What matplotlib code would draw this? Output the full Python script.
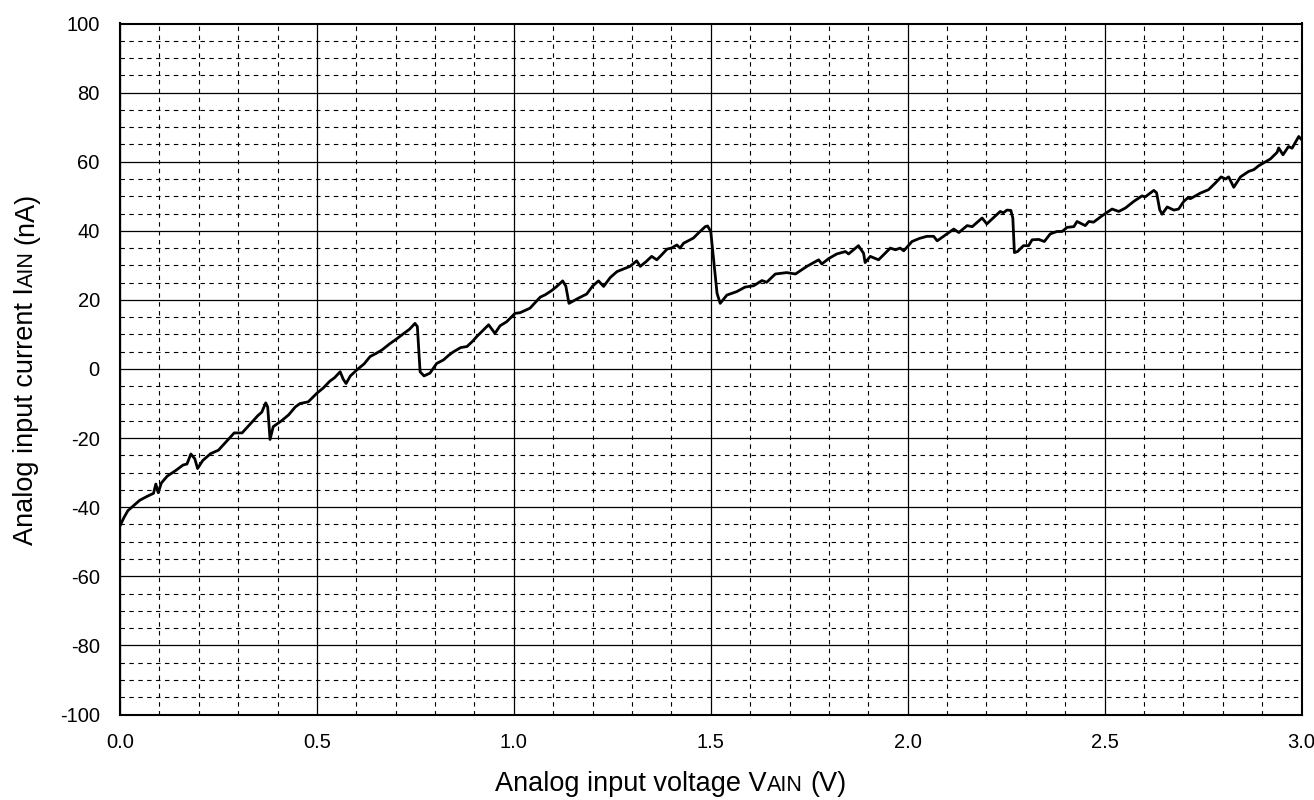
import numpy as np
import matplotlib
matplotlib.use("Agg")
import matplotlib.pyplot as plt
from matplotlib.ticker import MultipleLocator, FormatStrFormatter

plt.rcParams['font.family'] = ['Liberation Sans', 'DejaVu Sans']
plt.rcParams['axes.unicode_minus'] = False

# analog input voltage (V) vs analog input current (nA)
vain = [0.000, 0.010, 0.020, 0.035, 0.050, 0.070, 0.085, 0.091, 0.097, 0.105,
        0.120, 0.140, 0.160, 0.170, 0.180, 0.190, 0.197, 0.210, 0.230, 0.250,
        0.270, 0.290, 0.310, 0.330, 0.350, 0.360, 0.370, 0.375, 0.381, 0.389,
        0.410, 0.428, 0.445, 0.457, 0.478, 0.500, 0.516, 0.533, 0.545, 0.559,
        0.567, 0.574, 0.585, 0.601, 0.620, 0.635, 0.650, 0.665, 0.686, 0.700,
        0.716, 0.735, 0.749, 0.755, 0.762, 0.772, 0.787, 0.804, 0.821, 0.835,
        0.847, 0.865, 0.881, 0.895, 0.906, 0.920, 0.936, 0.952, 0.965, 0.982,
        1.003, 1.016, 1.041, 1.067, 1.080, 1.096, 1.110, 1.124, 1.132, 1.140,
        1.164, 1.185, 1.200, 1.215, 1.228, 1.245, 1.262, 1.280, 1.295, 1.312,
        1.321, 1.335, 1.350, 1.363, 1.375, 1.389, 1.400, 1.414, 1.422, 1.431,
        1.456, 1.470, 1.486, 1.492, 1.500, 1.516, 1.524, 1.541, 1.566, 1.587,
        1.609, 1.630, 1.642, 1.664, 1.693, 1.715, 1.744, 1.774, 1.782, 1.800,
        1.820, 1.842, 1.850, 1.875, 1.888, 1.892, 1.905, 1.926, 1.956, 1.969,
        1.981, 1.990, 2.011, 2.030, 2.049, 2.066, 2.075, 2.096, 2.117, 2.130,
        2.151, 2.164, 2.189, 2.201, 2.235, 2.243, 2.252, 2.262, 2.267, 2.271,
        2.279, 2.294, 2.307, 2.316, 2.333, 2.347, 2.362, 2.379, 2.392, 2.405,
        2.422, 2.430, 2.451, 2.460, 2.472, 2.493, 2.519, 2.536, 2.553, 2.574,
        2.595, 2.603, 2.625, 2.632, 2.640, 2.646, 2.659, 2.676, 2.688, 2.701,
        2.711, 2.718, 2.743, 2.764, 2.781, 2.796, 2.807, 2.815, 2.828, 2.845,
        2.866, 2.879, 2.891, 2.921, 2.938, 2.942, 2.953, 2.967, 2.976, 2.993,
        3.000]
iain = [-45.4, -43.0, -41.0, -39.5, -38.0, -36.8, -36.0, -33.3, -35.8, -33.0,
        -31.0, -29.5, -27.8, -27.5, -24.6, -26.0, -28.8, -26.5, -24.5, -23.5,
        -21.0, -18.5, -18.5, -16.0, -13.5, -12.5, -9.8, -11.0, -20.4, -16.7,
        -15.0, -13.3, -11.0, -10.0, -9.5, -7.0, -5.5, -3.5, -2.5, -0.8,
        -3.0, -4.2, -2.0, -0.3, 1.5, 3.6, 4.5, 5.5, 7.4, 8.5,
        9.9, 11.5, 13.2, 12.3, -0.8, -2.0, -1.2, 1.6, 2.6, 4.0,
        5.0, 6.2, 6.5, 8.0, 9.4, 11.0, 12.8, 10.3, 12.5, 13.7,
        16.1, 16.3, 17.6, 20.8, 21.5, 22.7, 24.0, 25.5, 24.0, 19.0,
        20.5, 21.7, 24.0, 25.5, 23.9, 26.5, 28.2, 29.0, 29.7, 31.3,
        29.7, 31.0, 32.6, 31.6, 33.0, 34.7, 35.0, 35.9, 35.0, 36.4,
        37.9, 39.5, 41.2, 41.4, 39.8, 21.9, 19.0, 21.4, 22.4, 23.7,
        24.1, 25.6, 25.1, 27.5, 27.9, 27.5, 29.7, 31.6, 30.4, 32.0,
        33.3, 34.0, 33.3, 35.7, 33.5, 30.8, 32.6, 31.6, 35.0, 34.5,
        35.0, 34.2, 36.9, 37.8, 38.4, 38.4, 37.1, 38.8, 40.5, 39.5,
        41.5, 41.2, 43.7, 42.0, 45.6, 45.2, 46.0, 45.9, 43.7, 33.7,
        34.0, 35.7, 35.7, 37.4, 37.5, 36.9, 39.1, 39.8, 39.8, 41.0,
        41.2, 42.7, 41.5, 42.7, 42.5, 44.3, 46.3, 45.6, 46.6, 48.5,
        50.1, 49.8, 51.7, 51.0, 46.1, 44.8, 46.9, 46.0, 46.3, 48.5,
        49.5, 49.3, 50.9, 51.9, 53.8, 55.6, 55.0, 55.6, 52.6, 55.6,
        57.2, 57.7, 58.8, 60.8, 62.7, 64.0, 62.0, 64.4, 63.9, 67.3,
        66.4]

W, H = 1314, 800
fig = plt.figure(figsize=(W / 100, H / 100), dpi=100)
ax = fig.add_axes([120 / W, 1 - 714.5 / H, (1301.5 - 120) / W, (714.5 - 23.5) / H])

ax.plot(vain, iain, color='black', lw=2.0, zorder=3,
        solid_joinstyle='round', solid_capstyle='round')

ax.set_xlim(0, 3.0)
ax.set_ylim(-100, 100)
ax.xaxis.set_major_locator(MultipleLocator(0.5))
ax.xaxis.set_minor_locator(MultipleLocator(0.1))
ax.yaxis.set_major_locator(MultipleLocator(20))
ax.yaxis.set_minor_locator(MultipleLocator(5))
ax.xaxis.set_major_formatter(FormatStrFormatter('%.1f'))
ax.tick_params(which='both', length=0, labelsize=14.5)
ax.tick_params(axis='x', pad=13.5)
ax.tick_params(axis='y', pad=14.5)

ax.grid(which='major', color='black', lw=0.9, ls='-')
ax.grid(which='minor', color='black', lw=0.8, ls=(0, (4, 4)))
for s in ax.spines.values():
    s.set_linewidth(1.5)


# axis labels with small "AIN" on the baseline
def place_label(parts, start_px, rotation):
    r = fig.canvas.get_renderer()
    texts = []
    for s, fs in parts:
        t = fig.text(0, 0, s, fontsize=fs, ha='left', va='baseline',
                     rotation_mode='anchor')
        texts.append(t)
    sp = fig.text(0, 0, 'a a', fontsize=parts[0][1])
    sp2 = fig.text(0, 0, 'aa', fontsize=parts[0][1])
    space = sp.get_window_extent(r).width - sp2.get_window_extent(r).width
    sp.remove()
    sp2.remove()
    widths = []
    for t, (s, fs) in zip(texts, parts):
        t.set_text(s.strip())
        widths.append(t.get_window_extent(r).width)
    gaps = [space if s.startswith(' ') else 0 for s, fs in parts]
    total = sum(widths) + sum(gaps)
    x0, y0 = start_px
    pos = -total / 2
    for t, w, g in zip(texts, widths, gaps):
        pos += g
        if rotation == 0:
            t.set_position(((x0 + pos) / W, y0 / H))
        else:
            t.set_rotation(90)
            t.set_position((x0 / W, (y0 + pos) / H))
        pos += w


fig.canvas.draw()
place_label([('Analog input voltage V', 19.5), ('AIN', 15.5), (' (V)', 19.5)],
            (671, H - 791), 0)
place_label([('Analog input current I', 19.5), ('AIN', 15.5), (' (nA)', 19.5)],
            (33, H - 369), 90)

fig.savefig('out.png', dpi=100)
